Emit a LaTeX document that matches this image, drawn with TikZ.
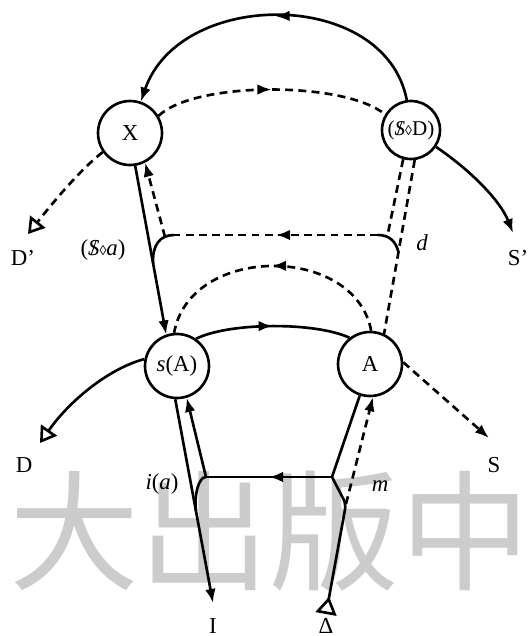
\documentclass[tikz,border=0pt]{standalone}
\usepackage{fontspec}
\setmainfont{Liberation Serif}
\newfontfamily\cjk{Noto Sans CJK SC}
\usetikzlibrary{arrows.meta,calc,decorations.markings,positioning}

\newcommand{\barredS}{\ooalign{\textit{S}\cr\hidewidth/\hidewidth\cr}}
\newcommand{\lz}{{\fontsize{8}{8}\selectfont ◊}}

\tikzset{
  spot/.style={circle, draw, line width=1.5pt, minimum size=1.28cm, inner sep=0pt, font=\fontsize{13}{15}\selectfont},
  tag/.style={inner sep=0pt, font=\fontsize{13}{15}\selectfont},
  full/.style={line width=1.5pt},
  broken/.style={line width=1.5pt, dash pattern=on 4.5pt off 3pt},
  arrowed/.style={-{Latex[length=8pt,width=6pt]}},
  tri/.style={-{Triangle[open,length=9pt,width=11pt]}},
  midarrow/.style={postaction={decorate}, decoration={markings, mark=at position 0.5 with {\arrow{Latex[length=8pt,width=6pt]}}}}
}

\begin{document}
\begin{tikzpicture}[x=0.02cm, y=-0.02cm]
\useasboundingbox (0,0) rectangle (529,636);

% watermark, behind the graph
\node[font=\cjk\fontsize{74}{74}\selectfont, text=gray!40, inner sep=0pt] (wm) at (270,531) {大出版中};

% circles
\node[spot] (X) at (130,133) {X};
\node[spot, minimum size=1.16cm, font=\fontsize{12}{14}\selectfont] (SD) at (411,130) {(\barredS\lz D)};
\node[spot] (sA) at (177,366) {\textit{s}(A)};
\node[spot] (A) at (370,364) {A};

% labels
\node[tag] (Dp) at (23,258) {D'};
\node[tag] (Sp) at (518,258) {S'};
\node[tag] (D) at (24,465) {D};
\node[tag] (S) at (494,465) {S};
\node[tag] (I) at (213,626) {I};
\node[tag] (Delta) at (326,626) {Δ};
\node[tag] (Sa) at (103,250) {(\barredS\lz\textit{a})};
\node[tag] (dd) at (422,243) {\textit{d}};
\node[tag] (ia) at (162,484) {\textit{i}(\textit{a})};
\node[tag] (mm) at (380,486) {\textit{m}};

% free ends
\coordinate (Dpend) at (28,234);
\coordinate (Spend) at (513,233);
\coordinate (Dend) at (40,443);
\coordinate (Send) at (489,438);
\coordinate (Iend) at (213,603);
\coordinate (Dstart) at (326,614);

% upper loop
\draw[full, arrowed, midarrow] (SD.98) .. controls (385,-12) and (180,-12) .. (X.71);
\draw[broken, midarrow] (X.31) .. controls (195,81) and (345,81) .. (SD.149);
\draw[broken, tri] (X.215) .. controls (80,170) and (55,200) .. (Dpend);
\draw[full, arrowed] (SD.-34) .. controls (470,170) and (500,200) .. (Spend);

% X down to s(A), with the d vector
\draw[full, arrowed] (X.-81) -- (sA.109);
\coordinate (kl) at ($(X.-81)!0.58!(sA.109)$);
\coordinate (tl) at (174,235);
\coordinate (tr) at (378,235);
\coordinate (tv) at (165,237);
\coordinate (dl) at (388,233);
\coordinate (br) at ($(SD.-83)!0.53!(A.65)$);
\draw[full] (kl) .. controls (152,245) and (160,235) .. (tl);
\draw[broken, midarrow] (tr) -- (tl);
\draw[full] (tr) .. controls (390,235) and (396,242) .. (br);
\draw[broken, arrowed] (tv) -- (X.-63);
\draw[broken] (SD.-105) -- (dl);
\draw[broken] (SD.-83) -- (A.65);

% middle arcs
\draw[broken, midarrow] (A.88) .. controls (355,244) and (190,244) .. (sA.95);
\draw[full, midarrow] (sA.55) .. controls (230,322) and (316,322) .. (A.128);
\draw[full, tri] (sA.168) .. controls (110,368) and (70,400) .. (Dend);
\draw[broken, arrowed] (A.3) -- (Send);

% lower part
\draw[full, arrowed] (sA.-93) -- (Iend);
\coordinate (jn) at ($(sA.-93)!0.55!(Iend)$);
\coordinate (lc) at (206,477);
\coordinate (rc) at (332,477);
\coordinate (rb) at (346,504);
\draw[full, {Triangle[open,reversed,length=10pt,width=12pt]}-, rounded corners=3pt] (Dstart) -- (rb) -- (rc);
\draw[full, midarrow] (rc) -- (lc);
\draw[full] (lc) .. controls (198,477) and (194,497) .. (jn);
\draw[full, arrowed] (lc) -- (sA.-73);
\draw[full] (rc) -- (A.-108);
\draw[broken, arrowed] (rb) -- (A.-85);
\end{tikzpicture}
\end{document}
